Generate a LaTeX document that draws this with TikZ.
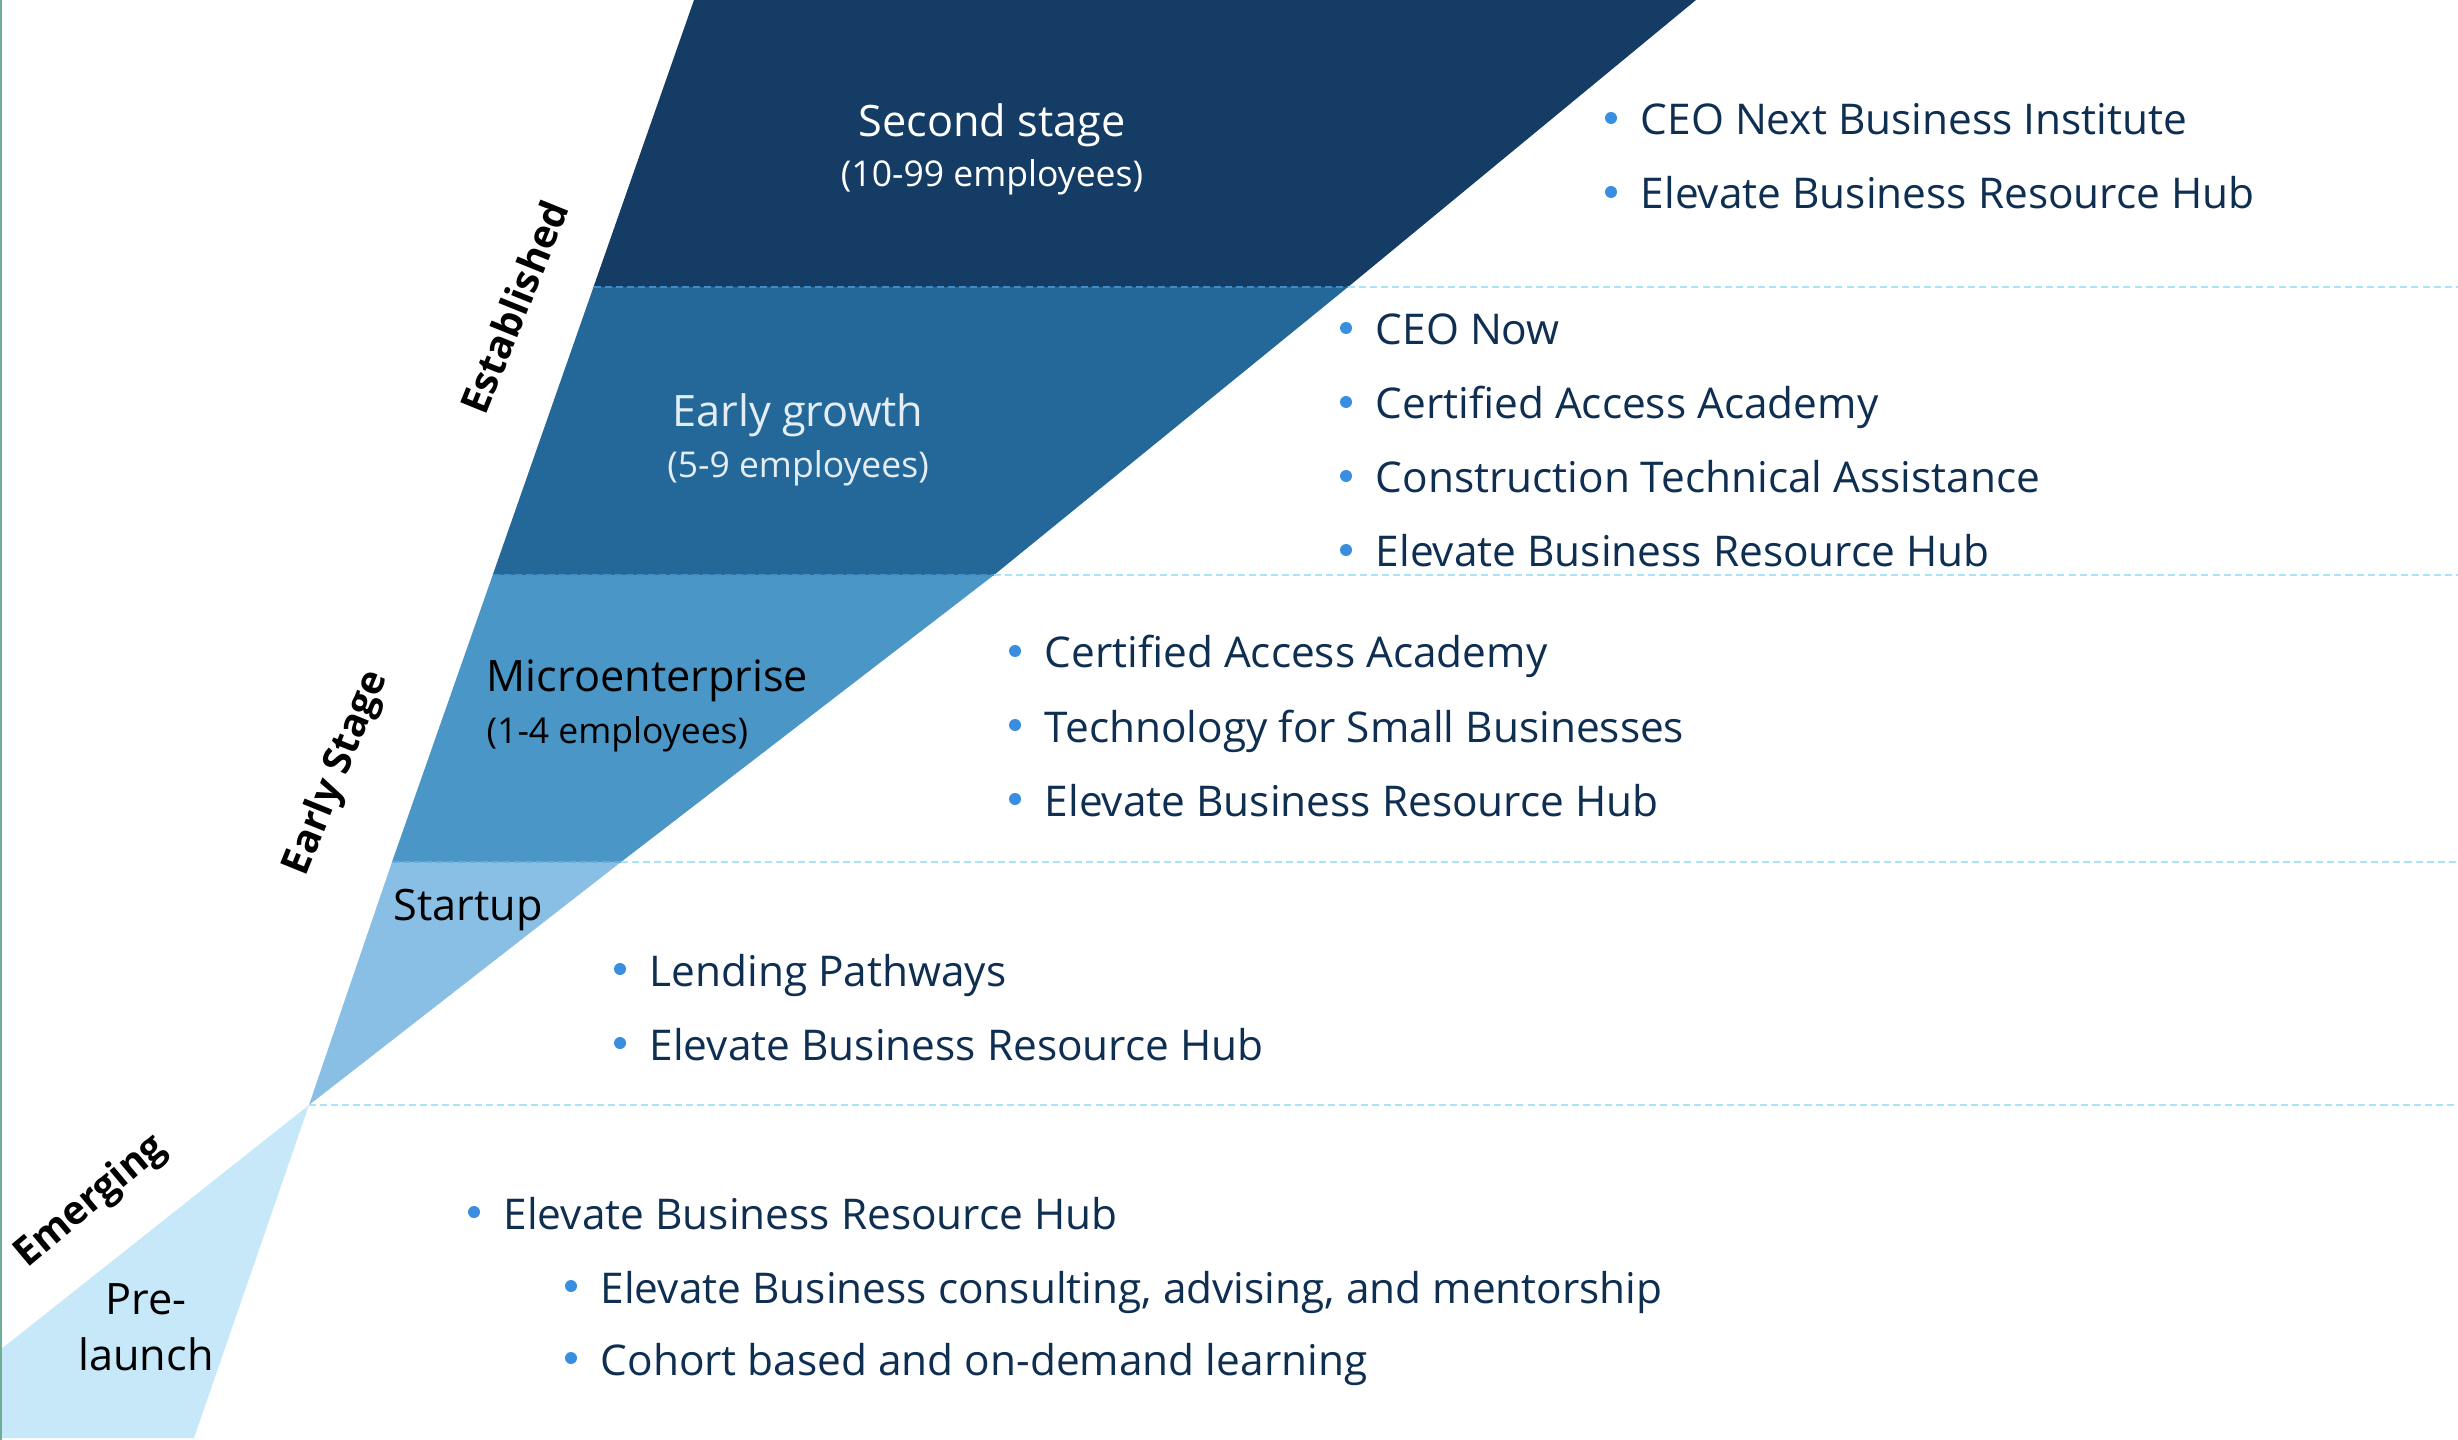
\documentclass[tikz,border=0pt]{standalone}
\usepackage{fontspec}
\setmainfont{Open Sans}
\usetikzlibrary{calc}
\definecolor{bandA}{HTML}{143C65}
\definecolor{bandB}{HTML}{236899}
\definecolor{bandC}{HTML}{4A96C7}
\definecolor{bandD}{HTML}{89BFE5}
\definecolor{bandE}{HTML}{C6E8F9}
\definecolor{txt}{HTML}{0F2F52}
\definecolor{bulc}{HTML}{3A8EE0}
\definecolor{dashout}{HTML}{A9E3F7}
\definecolor{dashin}{HTML}{3E8DC8}
\definecolor{edgegreen}{HTML}{6DAE94}
\definecolor{egtext}{HTML}{E4EDF4}
\newcommand\bitem[4]{%
  \node[itemtext] (#1) at (#2,#3) {#4};
  \fill[bulc] ($(#1.base west)+(-29,-17)$) circle[radius=0.6mm];
}
\begin{document}
\begin{tikzpicture}[x=0.01cm,y=-0.01cm,
  itemtext/.style={anchor=base west, inner sep=0pt, text=txt, font=\fontsize{12.05}{14}\selectfont},
  lbl/.style={inner sep=0pt, font=\fontsize{12.3}{14}\selectfont},
  sublbl/.style={inner sep=0pt, font=\fontsize{10.1}{12}\selectfont},
  stagelbl/.style={inner sep=0pt, text=black, font=\bfseries\fontsize{11.2}{14}\selectfont},
  dline/.style={line width=0.65pt, dash pattern=on 2pt off 1.15pt}]
\useasboundingbox (0,0) rectangle (2458,1440);
% band corner points
\coordinate (L0) at (694,0);
\coordinate (L1) at (593.5,287);
\coordinate (L2) at (492.7,575);
\coordinate (L3) at (392,862);
\coordinate (X)  at (309,1105);
\coordinate (R0) at (1696,0);
\coordinate (R1) at (1348,287);
\coordinate (R2) at (994,575);
\coordinate (R3) at (621,862);
\coordinate (Lb) at (194,1438);
\coordinate (Bl) at (0,1438);
\coordinate (Ul) at (0,1350);
% bands
\fill[bandA] (L0) -- (R0) -- (R1) -- (L1) -- cycle;
\fill[bandB] (L1) -- (R1) -- (R2) -- (L2) -- cycle;
\fill[bandC] (L2) -- (R2) -- (R3) -- (L3) -- cycle;
\fill[bandD] (L3) -- (R3) -- (X) -- cycle;
\fill[bandE] (X) -- (Lb) -- (Bl) -- (Ul) -- cycle;
% dashed separators
\coordinate (E1) at (2458,287);
\coordinate (E2) at (2458,575);
\coordinate (E3) at (2458,862);
\coordinate (E4) at (2458,1105);
\draw[dline, dashin] (L1) -- (R1);
\draw[dline, dashout] (R1) -- (E1);
\draw[dline, dashin!70!bandC] (L2) -- (R2);
\draw[dline, dashout] (R2) -- (E2);
\draw[dline, dashin!40!bandD] (L3) -- (R3);
\draw[dline, dashout] (R3) -- (E3);
\draw[dline, dashout] (X) -- (E4);
% left edge line
\draw[edgegreen, line width=0.6pt] (1,0) -- (1,1440);
% band labels
\node[lbl, anchor=base, text=white] (second) at (992,137) {Second stage};
\node[sublbl, anchor=base, text=white] (secondsub) at (992,187) {(10-99 employees)};
\node[lbl, anchor=base, text=egtext] (early) at (798,427) {Early growth};
\node[sublbl, anchor=base, text=egtext] (earlysub) at (798,478) {(5-9 employees)};
\node[lbl, anchor=base west, text=black] (micro) at (486,692) {Microenterprise};
\node[sublbl, anchor=base west, text=black] (microsub) at (486,743) {(1-4 employees)};
\node[lbl, anchor=base west, text=black] (startup) at (393,920) {Startup};
\node[lbl, anchor=base, text=black] (prea) at (146,1314) {Pre-};
\node[lbl, anchor=base, text=black] (preb) at (146,1370) {launch};
% stage labels
\node[stagelbl, rotate=68] (established) at (514,307) {Established};
\node[stagelbl, rotate=68] (earlystage) at (337,773) {Early Stage};
\node[stagelbl, rotate=40] (emerging) at (91,1202) {Emerging};
% bullet items
\bitem{a1}{1640}{135}{CEO Next Business Institute}
\bitem{a2}{1640}{209}{Elevate Business Resource Hub}
\bitem{b1}{1375}{345}{CEO Now}
\bitem{b2}{1375}{419}{Certified Access Academy}
\bitem{b3}{1375}{493}{Construction Technical Assistance}
\bitem{b4}{1375}{567}{Elevate Business Resource Hub}
\bitem{c1}{1044}{668}{Certified Access Academy}
\bitem{c2}{1044}{742}{Technology for Small Businesses}
\bitem{c3}{1044}{816}{Elevate Business Resource Hub}
\bitem{d1}{649}{986}{Lending Pathways}
\bitem{d2}{649}{1060}{Elevate Business Resource Hub}
\bitem{e1}{503}{1229}{Elevate Business Resource Hub}
\bitem{e2}{600}{1303}{Elevate Business consulting, advising, and mentorship}
\bitem{e3}{600}{1375}{Cohort based and on-demand learning}
\end{tikzpicture}
\end{document}
